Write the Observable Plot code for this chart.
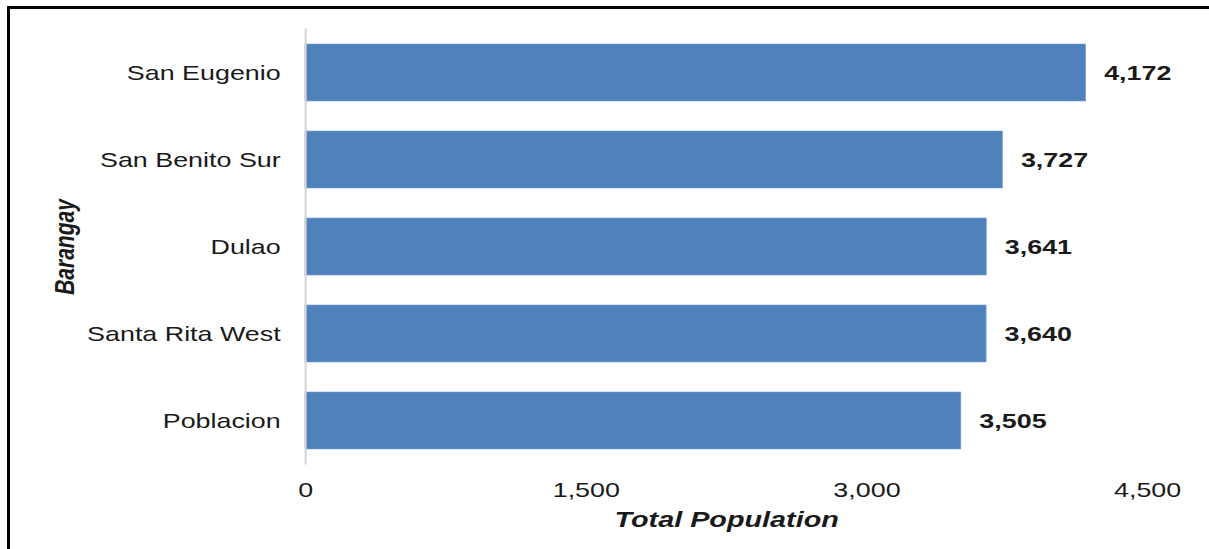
<!DOCTYPE html>
<html><head><meta charset="utf-8">
<script src="https://cdn.jsdelivr.net/npm/d3@7"></script>
<script src="https://cdn.jsdelivr.net/npm/@observablehq/plot@0.6"></script>
<style>
body{margin:0;background:#fff;overflow:hidden;}
#chart{position:absolute;left:0;top:0;width:945px;transform:scaleX(1.2794);transform-origin:0 0;}
#frame{position:absolute;left:7px;top:6px;width:1300px;height:600px;border-top:3px solid #000;border-left:3px solid #000;pointer-events:none;}
</style>
</head><body>
<div id="chart"></div>
<div id="frame"></div>
<script>
const barangays = ["San Eugenio", "San Benito Sur", "Dulao", "Santa Rita West", "Poblacion"];
const population = [4172, 3727, 3641, 3640, 3505];
const xTicks = [0, 1500, 3000, 4500];
const xTitle = "Total Population";
const yTitle = "Barangay";

const data = barangays.map((name, i) => ({name, value: population[i]}));
const fmt = d3.format(",");

const chart = Plot.plot({
  width: 945,
  height: 549,
  marginLeft: 238.4,
  marginRight: 48.5,
  marginTop: 28.4,
  marginBottom: 84.4,
  style: {fontFamily: "'Liberation Sans', Arial, sans-serif", color: "#1a1a1a", background: "#fff"},
  x: {domain: [0, 4500], axis: null},
  y: {domain: barangays, paddingInner: 0.347, paddingOuter: 0.1735, axis: null},
  marks: [
    Plot.barX(data, {x: "value", y: "name", fill: "#4F81BD", stroke: "#7aa0cf", strokeWidth: 0.6}),
    Plot.ruleX([0], {stroke: "#d4d4d4", strokeWidth: 1.6}),
    Plot.axisX({ticks: xTicks, tickFormat: fmt, tickSize: 0, tickPadding: 17, fontSize: 21, label: null}),
    Plot.axisY({tickSize: 0, tickPadding: 19.5, fontSize: 21, label: null}),
    Plot.text(data, {x: "value", y: "name", text: d => fmt(d.value), textAnchor: "start", dx: 14, fontSize: 21, fontWeight: "bold", fill: "#1a1a1a"}),
    Plot.text([xTitle], {frameAnchor: "bottom", textAnchor: "middle", dy: 62, fontSize: 22.5, fontWeight: "bold", fontStyle: "italic", fill: "#1a1a1a"}),
    Plot.text([yTitle], {frameAnchor: "left", textAnchor: "middle", dx: -187.6, rotate: -90, fontSize: 21, fontWeight: "bold", fontStyle: "italic", fill: "#1a1a1a"})
  ]
});
document.getElementById("chart").appendChild(chart);
</script>
</body></html>
